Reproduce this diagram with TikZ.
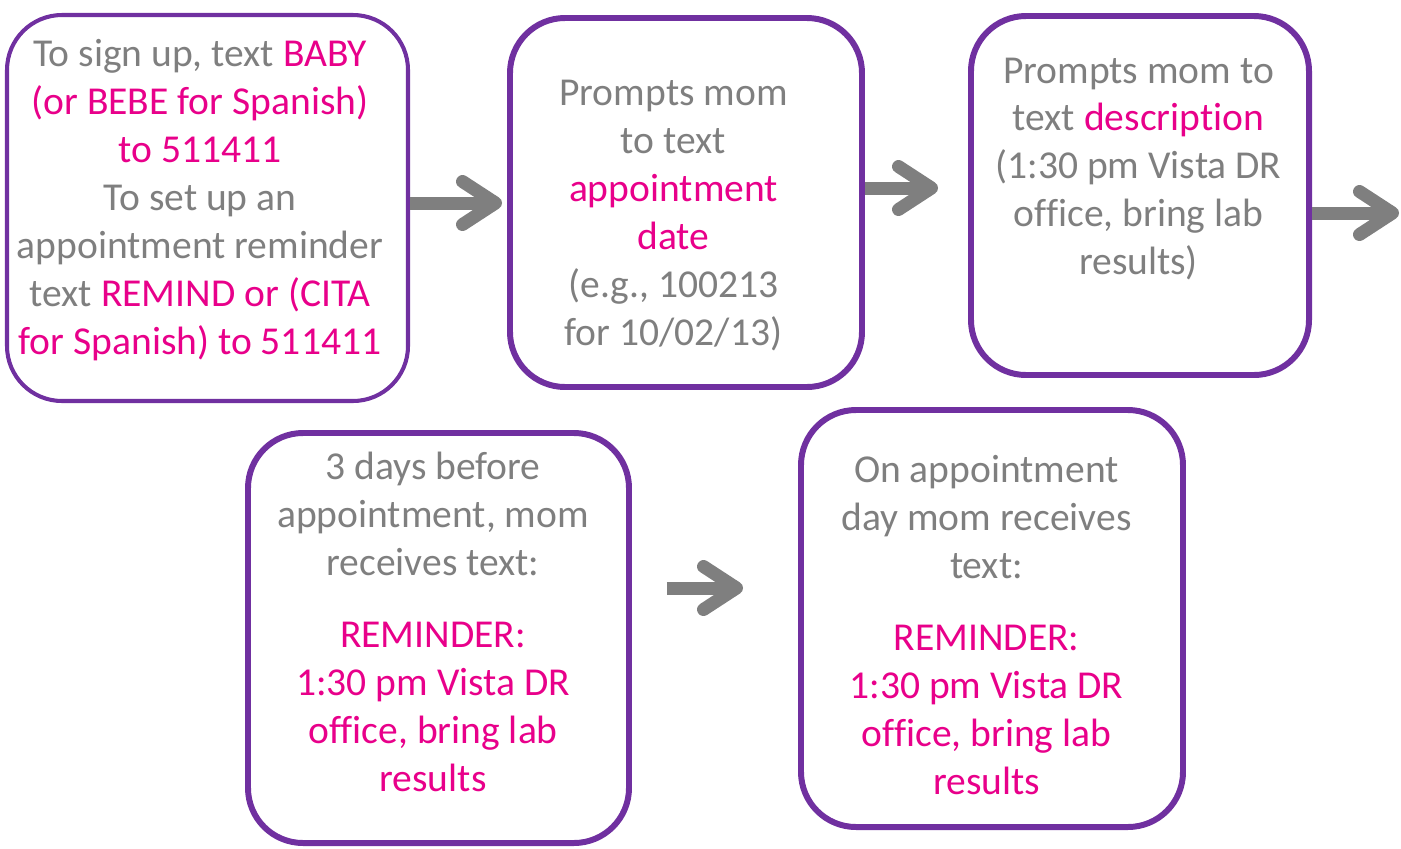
\documentclass[tikz,border=0pt]{standalone}
\usepackage{fontspec}
\setmainfont{Carlito}[Ligatures = NoCommon]
\usetikzlibrary{arrows.meta}
\definecolor{boxpurple}{HTML}{7030A0}
\definecolor{textgray}{HTML}{7F7F7F}
\definecolor{pinktext}{HTML}{E8008A}
\newcommand{\hl}[1]{\textcolor{pinktext}{#1}}
\begin{document}
\begin{tikzpicture}[
    stepbox/.style = {draw = boxpurple, line width = 3.4pt, rounded corners = 1.1cm, inner sep = 0pt},
    steptext/.style = {text = textgray, align = center, inner sep = 0pt, font = \fontsize{22.5}{27.3}\selectfont},
    flow/.style = {draw = textgray, line width = 0.26cm, -{Straight Barb[length = 0.66cm, width = 0.86cm, round]}}
]
    \useasboundingbox (0, 0) rectangle (28.02, -16.96);

    \node[stepbox, line width = 2.3pt, minimum width = 8.02cm, minimum height = 7.72cm] (b1) at (4.15, -4.16) {};
    \node[stepbox, minimum width = 7.04cm, minimum height = 7.38cm] (b2) at (13.72, -4.05) {};
    \node[stepbox, minimum width = 6.76cm, minimum height = 7.18cm] (b3) at (22.8, -3.91) {};
    \node[stepbox, minimum width = 7.62cm, minimum height = 8.2cm] (b4) at (8.77, -12.76) {};
    \node[stepbox, minimum width = 7.64cm, minimum height = 8.34cm] (b5) at (19.84, -12.37) {};

    \node[steptext] (t1) at (4.0, -4.0) {To sign up, text \hl{BABY}\\ \hl{(or BEBE for Spanish)}\\ \hl{to 511411}\\ To set up an\\ appointment reminder\\ text \hl{REMIND or (CITA}\\ \hl{for Spanish) to 511411}};
    \node[steptext] (t2) at (13.47, -4.31) {Prompts mom\\ to text\\ \hl{appointment}\\ \hl{date}\\ (e.g., 100213\\ for 10/02/13)};
    \node[steptext] (t3) at (22.77, -3.38) {Prompts mom to\\ text \hl{description}\\ (1:30 pm Vista DR\\ office, bring lab\\ results)};
    \node[steptext] (t4) at (8.66, -12.43) {3 days before\\ appointment, mom\\ receives text:\\[0.48cm] \hl{REMINDER:}\\ \hl{1:30 pm Vista DR}\\ \hl{office, bring lab}\\ \hl{results}};
    \node[steptext] (t5) at (19.73, -12.5) {On appointment\\ day mom receives\\ text:\\[0.48cm] \hl{REMINDER:}\\ \hl{1:30 pm Vista DR}\\ \hl{office, bring lab}\\ \hl{results}};

    \coordinate (a3end) at (27.98, -4.26);

    \draw[flow, shorten > = 0.1cm] ([yshift = 1mm]b1.east) coordinate (s1) -- (s1 -| b2.west);
    \draw[flow, shorten > = 0.6cm] ([yshift = 2.9mm]b2.east) coordinate (s2) -- (s2 -| b3.west);
    \draw[flow] ([yshift = -3.5mm]b3.east) coordinate (s3) -- (s3 -| a3end);
    \draw[flow, shorten < = 0.7cm, shorten > = 1.1cm] ([yshift = 10mm]b4.east) coordinate (s4) -- (s4 -| b5.west);
\end{tikzpicture}
\end{document}
